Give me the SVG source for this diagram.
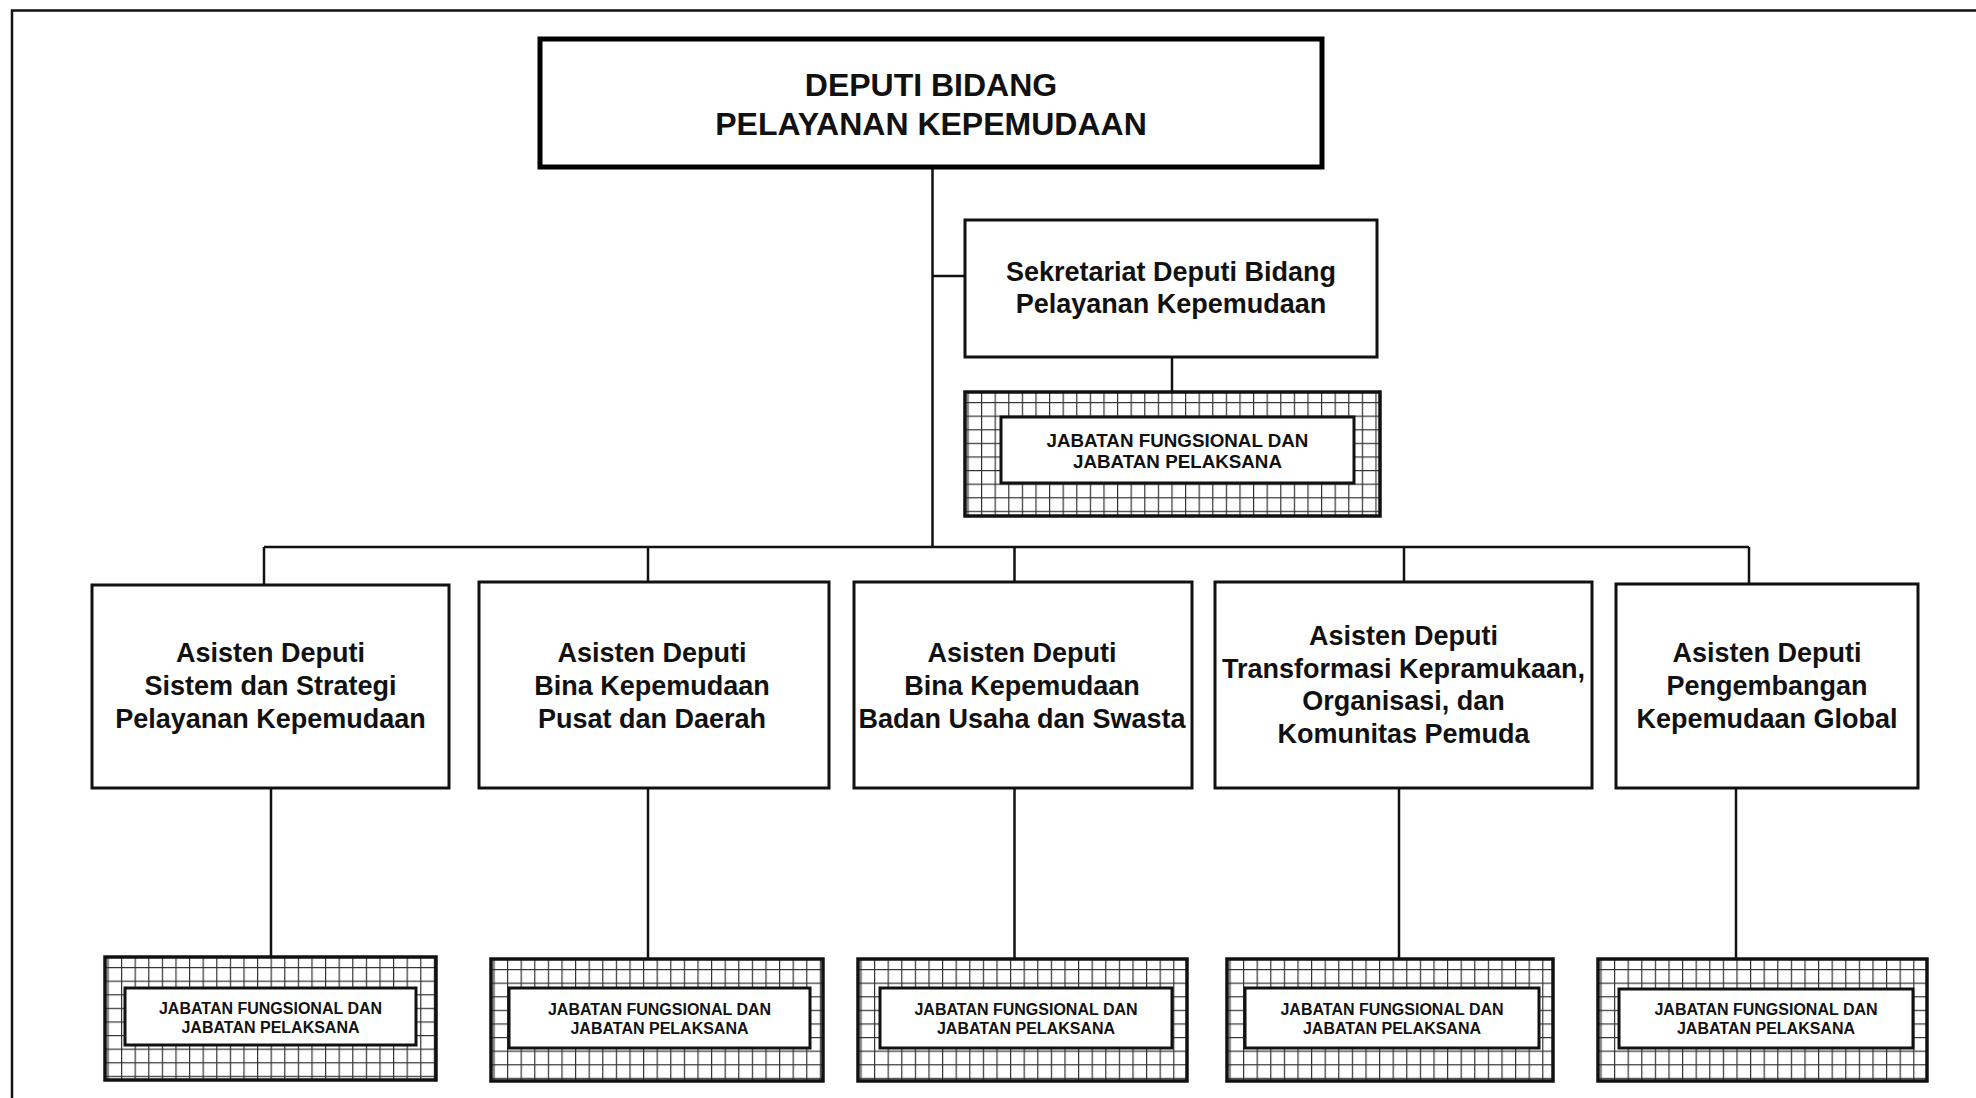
<svg xmlns="http://www.w3.org/2000/svg" width="1976" height="1098" viewBox="0 0 1976 1098">
<style>
  text { font-family: "Liberation Sans", Arial, sans-serif; font-weight: bold; fill: #111; text-anchor: middle; }
  .t32 { font-size: 32px; }
  .t27 { font-size: 27px; }
  .jf18 { font-size: 18.8px; }
  .jf16 { font-size: 16px; }
  .box { fill: #fff; stroke: #111; stroke-width: 3; }
  .main { fill: #fff; stroke: #000; stroke-width: 5; }
  .grid { fill: url(#grid); stroke: #111; stroke-width: 3.5; }
  .inner { fill: #fff; stroke: #111; stroke-width: 3; }
  .conn { fill: none; stroke: #111; stroke-width: 2.5; }
  .frame { fill: none; stroke: #111; stroke-width: 2.5; }
</style>
<defs>
  <pattern id="grid" patternUnits="userSpaceOnUse" x="16" y="10" width="13.6" height="13.6">
    <rect width="13.6" height="13.6" fill="#fff"/>
    <rect x="0" y="0" width="13.6" height="1.2" fill="#333"/>
    <rect x="0" y="0" width="1.2" height="13.6" fill="#333"/>
  </pattern>
</defs>
<rect width="1976" height="1098" fill="#fff"/>
<path class="frame" d="M12 1098 V10.5 H1976"/>

<g id="connectors">
  <path class="conn" d="M932.5 167 V547"/>
  <path class="conn" d="M932.5 276 H965"/>
  <path class="conn" d="M1172 357 V392"/>
  <path class="conn" d="M264 547 H1749"/>
  <path class="conn" d="M264 547 V585"/>
  <path class="conn" d="M648 547 V582"/>
  <path class="conn" d="M1014.5 547 V582"/>
  <path class="conn" d="M1404 547 V582"/>
  <path class="conn" d="M1749 547 V584"/>
  <path class="conn" d="M271 788 V957"/>
  <path class="conn" d="M648 788 V959"/>
  <path class="conn" d="M1014.5 788 V959"/>
  <path class="conn" d="M1399 788 V959"/>
  <path class="conn" d="M1736 788 V959"/>
</g>

<g id="deputi">
  <rect class="main" x="540" y="39" width="782" height="128"/>
  <text class="t32" x="931" y="96">DEPUTI BIDANG</text>
  <text class="t32" x="931" y="134.5">PELAYANAN KEPEMUDAAN</text>
</g>

<g id="sekretariat">
  <rect class="box" x="965" y="220" width="412" height="137"/>
  <text class="t27" x="1171" y="280.5">Sekretariat Deputi Bidang</text>
  <text class="t27" x="1171" y="313">Pelayanan Kepemudaan</text>
</g>

<g id="jf-sekretariat" transform="translate(965,392)">
  <rect class="grid" x="0" y="0" width="415" height="124"/>
  <rect class="inner" x="36" y="25" width="353" height="66"/>
  <text class="jf18" x="212.5" y="55">JABATAN FUNGSIONAL DAN</text>
  <text class="jf18" x="212.5" y="76">JABATAN PELAKSANA</text>
</g>

<g id="asdep-1">
  <rect class="box" x="92" y="585" width="357" height="203"/>
  <text class="t27" x="270.5" y="662">Asisten Deputi</text>
  <text class="t27" x="270.5" y="695">Sistem dan Strategi</text>
  <text class="t27" x="270.5" y="728">Pelayanan Kepemudaan</text>
</g>

<g id="asdep-2">
  <rect class="box" x="479" y="582" width="350" height="206"/>
  <text class="t27" x="652" y="662">Asisten Deputi</text>
  <text class="t27" x="652" y="695">Bina Kepemudaan</text>
  <text class="t27" x="652" y="728">Pusat dan Daerah</text>
</g>

<g id="asdep-3">
  <rect class="box" x="854" y="582" width="338" height="206"/>
  <text class="t27" x="1022" y="662">Asisten Deputi</text>
  <text class="t27" x="1022" y="695">Bina Kepemudaan</text>
  <text class="t27" x="1022" y="728">Badan Usaha dan Swasta</text>
</g>

<g id="asdep-4">
  <rect class="box" x="1215" y="582" width="377" height="206"/>
  <text class="t27" x="1403.5" y="645">Asisten Deputi</text>
  <text class="t27" x="1403.5" y="677.5">Transformasi Kepramukaan,</text>
  <text class="t27" x="1403.5" y="710">Organisasi, dan</text>
  <text class="t27" x="1403.5" y="742.5">Komunitas Pemuda</text>
</g>

<g id="asdep-5">
  <rect class="box" x="1616" y="584" width="302" height="204"/>
  <text class="t27" x="1767" y="662">Asisten Deputi</text>
  <text class="t27" x="1767" y="695">Pengembangan</text>
  <text class="t27" x="1767" y="728">Kepemudaan Global</text>
</g>

<g id="jf-1" transform="translate(105,957)">
  <rect class="grid" x="0" y="0" width="331" height="123"/>
  <rect class="inner" x="20" y="31" width="291" height="57"/>
  <text class="jf16" x="165.5" y="57">JABATAN FUNGSIONAL DAN</text>
  <text class="jf16" x="165.5" y="76">JABATAN PELAKSANA</text>
</g>

<g id="jf-2" transform="translate(491,959)">
  <rect class="grid" x="0" y="0" width="332" height="122"/>
  <rect class="inner" x="18" y="29" width="301" height="60"/>
  <text class="jf16" x="168.5" y="56">JABATAN FUNGSIONAL DAN</text>
  <text class="jf16" x="168.5" y="75">JABATAN PELAKSANA</text>
</g>

<g id="jf-3" transform="translate(858,959)">
  <rect class="grid" x="0" y="0" width="329" height="122"/>
  <rect class="inner" x="22" y="29" width="292" height="60"/>
  <text class="jf16" x="168" y="56">JABATAN FUNGSIONAL DAN</text>
  <text class="jf16" x="168" y="75">JABATAN PELAKSANA</text>
</g>

<g id="jf-4" transform="translate(1227,959)">
  <rect class="grid" x="0" y="0" width="326" height="122"/>
  <rect class="inner" x="18" y="29" width="294" height="60"/>
  <text class="jf16" x="165" y="56">JABATAN FUNGSIONAL DAN</text>
  <text class="jf16" x="165" y="75">JABATAN PELAKSANA</text>
</g>

<g id="jf-5" transform="translate(1598,959)">
  <rect class="grid" x="0" y="0" width="329" height="122"/>
  <rect class="inner" x="21" y="30" width="294" height="59"/>
  <text class="jf16" x="168" y="56">JABATAN FUNGSIONAL DAN</text>
  <text class="jf16" x="168" y="75">JABATAN PELAKSANA</text>
</g>
</svg>
